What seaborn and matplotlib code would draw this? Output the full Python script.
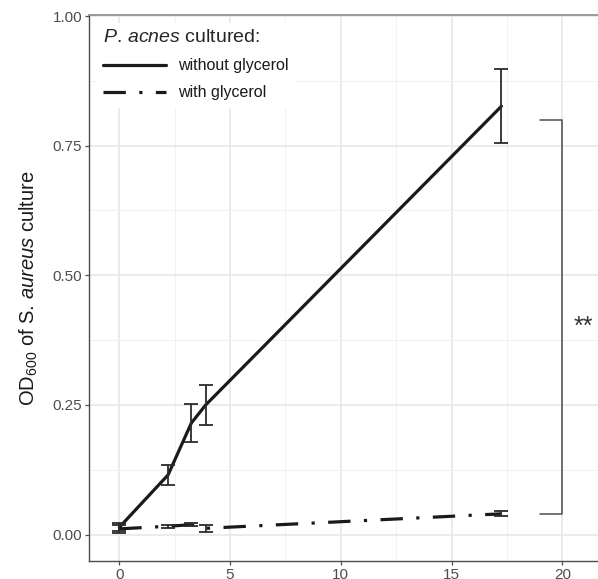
import pandas as pd
import matplotlib
matplotlib.use("Agg")
import matplotlib.pyplot as plt
from matplotlib.ticker import MultipleLocator
from matplotlib.lines import Line2D
import seaborn as sns

# data
time_h = [0, 2.2, 3.25, 3.9, 17.25]
od_without = [0.014, 0.115, 0.215, 0.250, 0.826]
err_without = [0.008, 0.020, 0.036, 0.038, 0.071]
od_with = [0.011, 0.016, 0.019, 0.012, 0.040]
err_with = [0.008, 0.003, 0.003, 0.007, 0.005]
groups = ["without glycerol", "with glycerol"]

df = pd.DataFrame({
    "time": time_h * 2,
    "od": od_without + od_with,
    "err": err_without + err_with,
    "group": [groups[0]] * len(time_h) + [groups[1]] * len(time_h),
})

sns.set_theme(style="whitegrid")
plt.rcParams["font.family"] = ["Liberation Sans", "DejaVu Sans"]
plt.rcParams["mathtext.fontset"] = "custom"
plt.rcParams["mathtext.rm"] = "Liberation Sans"
plt.rcParams["mathtext.it"] = "Liberation Sans:italic"

fig = plt.figure(figsize=(5.98, 5.79), dpi=100)
ax = fig.add_axes([0.1488, 0.0311, 0.8512, 0.9430])

dash_seq = (7.0, 4.2, 1.0, 4.2)
line_col = "#1a1a1a"
sns.lineplot(data=df, x="time", y="od", style="group", style_order=groups,
             dashes={groups[0]: "", groups[1]: dash_seq},
             color=line_col, linewidth=2.3, ax=ax, legend=False, zorder=3)

for g in groups:
    sub = df[df["group"] == g]
    ax.errorbar(sub["time"], sub["od"], yerr=sub["err"], fmt="none",
                ecolor="#2b2b2b", elinewidth=1.3, capsize=4.8, capthick=1.3, zorder=4)

# significance bracket
ax.plot([19.0, 20.0, 20.0, 19.0], [0.04, 0.04, 0.80, 0.80], color="#4d4d4d", lw=1.1, zorder=2)
ax.text(20.95, 0.40, "**", ha="center", va="center", fontsize=18, color="#333333")

ax.set_xlim(-1.37, 21.61)
ax.set_ylim(-0.051, 1.002)
ax.xaxis.set_major_locator(MultipleLocator(5))
ax.xaxis.set_minor_locator(MultipleLocator(2.5))
ax.yaxis.set_major_locator(MultipleLocator(0.25))
ax.yaxis.set_minor_locator(MultipleLocator(0.125))
ax.set_yticks([0, 0.25, 0.5, 0.75, 1.0])
ax.set_yticklabels(["0.00", "0.25", "0.50", "0.75", "1.00"])

ax.grid(which="major", color="#e6e6e6", lw=1.1)
ax.grid(which="minor", color="#f2f2f2", lw=0.8)
ax.set_axisbelow(True)

for s in ["left", "bottom"]:
    ax.spines[s].set_visible(True)
    ax.spines[s].set_color("#4d4d4d")
    ax.spines[s].set_linewidth(1.0)
ax.spines["top"].set_color("#8c8c8c")
ax.spines["top"].set_linewidth(1.2)
ax.spines["right"].set_visible(False)

ax.tick_params(axis="both", which="major", length=3, width=0.9, color="#4d4d4d",
               labelsize=11, labelcolor="#4d4d4d", bottom=True, left=True, pad=2)
ax.tick_params(axis="both", which="minor", length=0)

ax.set_xlabel("")
ax.set_ylabel(r"OD$_{600}$ of S. $\mathit{aureus}$ culture", fontsize=14.5, color="#1a1a1a", labelpad=9)

handles = [Line2D([], [], color=line_col, lw=2.3, linestyle="-"),
           Line2D([], [], color=line_col, lw=2.3, linestyle=(0, dash_seq))]
leg = ax.legend(handles, groups, title=r"$\mathit{P.}\,\mathit{acnes}$ cultured:", loc="upper left",
                bbox_to_anchor=(0.0, 1.0), frameon=True, fontsize=11.5, title_fontsize=14,
                handlelength=3.9, handletextpad=0.8, labelspacing=0.75, borderpad=0.4,
                fancybox=False, edgecolor="white", facecolor="white", framealpha=1)
leg._legend_box.align = "left"
for t in leg.get_texts():
    t.set_color("#1a1a1a")

fig.savefig("out.png", dpi=100)
